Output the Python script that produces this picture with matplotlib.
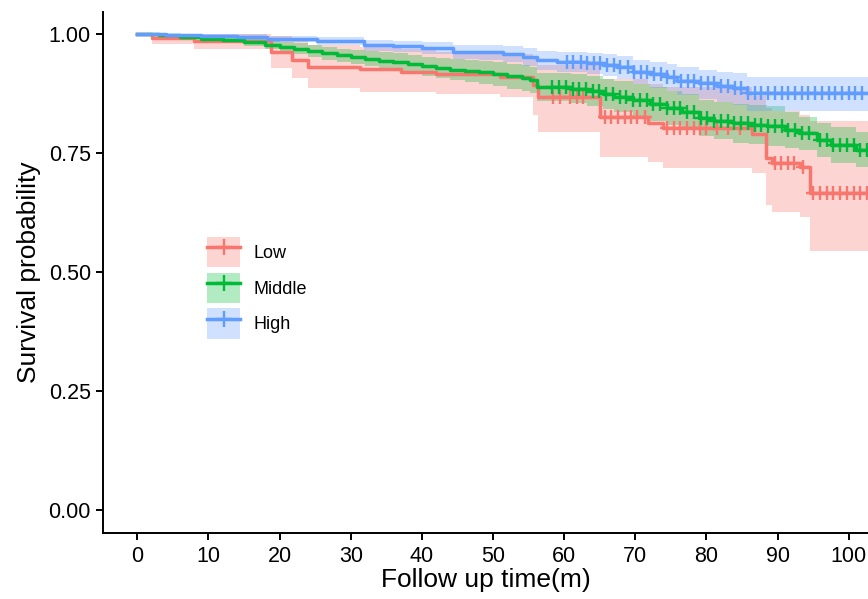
import numpy as np
import matplotlib
matplotlib.use("Agg")
import matplotlib.pyplot as plt
from matplotlib.patches import Patch
from matplotlib.lines import Line2D

plt.rcParams['font.family'] = ['Liberation Sans', 'DejaVu Sans']

groups = ['Low', 'Middle', 'High']
colors = ['#F8766D', '#00BA38', '#619CFF']
t_end = 104

# Low group: step times, survival, CI
low_t = [0, 2, 8, 18.8, 21.8, 24, 31.3, 37, 42, 51, 55.6, 56.3, 65, 71.8, 73.9, 86.4, 88.4, 89.2, 93.1, 94.6]
low_s = [1.0, 0.992, 0.985, 0.963, 0.945, 0.931, 0.927, 0.921, 0.916, 0.910, 0.893, 0.868, 0.826, 0.812, 0.802, 0.790, 0.739, 0.730, 0.720, 0.667]
low_lo = [1.0, 0.978, 0.968, 0.929, 0.908, 0.887, 0.879, 0.878, 0.874, 0.868, 0.830, 0.795, 0.742, 0.732, 0.719, 0.708, 0.641, 0.627, 0.615, 0.545]
low_hi = [1.0, 1.0, 1.0, 0.995, 0.985, 0.976, 0.973, 0.968, 0.963, 0.958, 0.948, 0.935, 0.905, 0.895, 0.888, 0.870, 0.845, 0.838, 0.830, 0.817]
low_cens = [58.4, 59.4, 60.8, 61.8, 62.7, 65.7, 66.6, 67.5, 68.5, 69.4, 70.3, 71.3, 74.4, 75.4, 76.3,
            77.2, 78.2, 79.1, 80.0, 81.5, 83.0, 84.7, 89.6, 90.5, 91.4, 92.3, 93.5, 95.0, 95.9, 96.9,
            97.8, 98.8, 99.7, 100.7, 101.6, 102.5]

# Middle group
mid_t = [0, 3, 6, 9, 12, 15, 18, 20, 22, 24, 26, 28, 30, 32, 34, 36, 38, 40, 42, 44, 46, 48, 50, 52, 54,
         55.2, 56.2, 61, 63.2, 65.5, 67, 69.7, 72, 74.4, 76.5, 79, 81, 83.7, 86, 88.5, 91, 93, 95.5, 97.5, 101]
mid_s = [1.0, 0.997, 0.994, 0.990, 0.987, 0.982, 0.977, 0.973, 0.969, 0.964, 0.959, 0.955, 0.951, 0.948,
         0.944, 0.941, 0.937, 0.932, 0.928, 0.925, 0.922, 0.919, 0.915, 0.911, 0.907, 0.903, 0.889, 0.885,
         0.880, 0.874, 0.868, 0.861, 0.853, 0.845, 0.836, 0.824, 0.818, 0.812, 0.809, 0.806, 0.798, 0.791,
         0.777, 0.767, 0.757]
mid_lo = [1.0, 0.993, 0.989, 0.984, 0.980, 0.974, 0.968, 0.963, 0.958, 0.952, 0.946, 0.941, 0.936, 0.932,
          0.927, 0.923, 0.918, 0.912, 0.907, 0.903, 0.899, 0.895, 0.890, 0.885, 0.880, 0.875, 0.860, 0.855,
          0.849, 0.842, 0.835, 0.827, 0.818, 0.809, 0.799, 0.786, 0.779, 0.772, 0.768, 0.764, 0.760, 0.756,
          0.741, 0.730, 0.721]
mid_hi = [1.0, 1.0, 0.999, 0.996, 0.994, 0.990, 0.986, 0.983, 0.980, 0.976, 0.972, 0.969, 0.966, 0.964,
          0.961, 0.959, 0.956, 0.952, 0.949, 0.947, 0.945, 0.943, 0.940, 0.937, 0.934, 0.931, 0.918, 0.915,
          0.911, 0.906, 0.901, 0.895, 0.888, 0.881, 0.873, 0.862, 0.857, 0.852, 0.850, 0.848, 0.836, 0.826,
          0.813, 0.804, 0.793]
mid_cens = [58.3, 59.3, 60.2, 61.2, 62.1, 63.0, 64.0, 64.9, 65.9, 66.8, 67.8, 68.7, 69.7, 70.6, 71.6, 72.5,
            73.5, 74.4, 75.4, 76.3, 77.3, 78.2, 79.2, 80.1, 81.1, 82.0, 83.0, 83.9, 84.9, 85.8, 86.8, 87.7,
            88.7, 89.6, 90.6, 91.5, 92.5, 93.4, 94.4, 95.9, 96.9, 97.8, 98.8, 99.7, 100.7, 101.6, 102.5]

# High group
high_t = [0, 4, 9, 14, 18.2, 25.2, 31.8, 36, 40, 44.4, 48, 51.4, 54.2, 56.2, 59, 63.2, 65.5, 67.4, 69.7,
          72, 74.4, 75.8, 79, 81.5, 83.7, 85.7]
high_s = [1.0, 0.998, 0.996, 0.993, 0.989, 0.986, 0.976, 0.974, 0.971, 0.962, 0.961, 0.958, 0.952, 0.945,
          0.942, 0.938, 0.935, 0.931, 0.921, 0.915, 0.910, 0.902, 0.896, 0.891, 0.886, 0.875]
high_lo = [1.0, 0.995, 0.991, 0.987, 0.982, 0.977, 0.965, 0.962, 0.958, 0.947, 0.945, 0.941, 0.933, 0.925,
           0.921, 0.915, 0.911, 0.906, 0.895, 0.887, 0.881, 0.871, 0.864, 0.858, 0.851, 0.838]
high_hi = [1.0, 1.0, 1.0, 0.999, 0.996, 0.994, 0.987, 0.985, 0.983, 0.977, 0.976, 0.975, 0.970, 0.964,
           0.962, 0.959, 0.957, 0.954, 0.945, 0.940, 0.936, 0.930, 0.925, 0.921, 0.917, 0.909]
high_cens = [60.4, 61.3, 62.3, 63.2, 64.2, 65.1, 66.0, 67.0, 67.9, 68.9, 69.8, 70.8, 71.7, 72.6, 73.6, 74.5,
             75.5, 76.4, 77.4, 78.3, 79.2, 80.2, 81.1, 82.1, 83.0, 84.0, 84.9, 85.8, 86.8, 87.7, 88.7,
             89.6, 90.6, 91.5, 92.4, 93.4, 94.3, 95.3, 96.2, 97.2, 98.1, 99.0, 100.0, 100.9, 101.9]

data = [
    (low_t, low_s, low_lo, low_hi, low_cens),
    (mid_t, mid_s, mid_lo, mid_hi, mid_cens),
    (high_t, high_s, high_lo, high_hi, high_cens),
]

fig = plt.figure(figsize=(8.68, 5.99), dpi=100)
ax = fig.add_axes([0.119, 0.110, 0.881, 0.870])

# bands first, then curves on top
for (t, s, lo, hi, cens), col in zip(data, colors):
    tt = np.append(t, t_end)
    ax.fill_between(tt, np.append(lo, lo[-1]), np.append(hi, hi[-1]), step='post',
                    color=col, alpha=0.3, lw=0)

for (t, s, lo, hi, cens), col in zip(data, colors):
    tt = np.append(t, t_end)
    ss = np.append(s, s[-1])
    ax.step(tt, ss, where='post', color=col, lw=2.5)
    idx = np.searchsorted(t, cens, side='right') - 1
    ax.plot(cens, np.array(s)[idx], ls='none', marker='+', color=col, ms=10, mew=1.7)

ax.set_xlim(-4.78, 102.7)
ax.set_ylim(-0.048, 1.046)
ax.set_xticks(np.arange(0, 101, 10))
ax.set_yticks([0, 0.25, 0.5, 0.75, 1.0])
ax.set_yticklabels(['0.00', '0.25', '0.50', '0.75', '1.00'])
ax.tick_params(labelsize=15.5, length=5, width=1.4, color='black', labelcolor='black', pad=4)
for side in ['top', 'right']:
    ax.spines[side].set_visible(False)
for side in ['left', 'bottom']:
    ax.spines[side].set_linewidth(1.4)

ax.set_xlabel('Follow up time(m)', fontsize=19, labelpad=1)
ax.set_ylabel('Survival probability', fontsize=19, labelpad=5)

handles = [(Patch(facecolor=c, alpha=0.3, lw=0),
            Line2D([], [], color=c, lw=2.5, marker='+', ms=12, mew=1.7)) for c in colors]
ax.legend(handles, groups, loc='upper left', bbox_to_anchor=(0.136, 0.568), frameon=False,
          fontsize=13, handlelength=1.8, handleheight=2.2, labelspacing=0.3,
          handletextpad=0.75, borderpad=0, borderaxespad=0)

fig.savefig('out.png', dpi=100)
